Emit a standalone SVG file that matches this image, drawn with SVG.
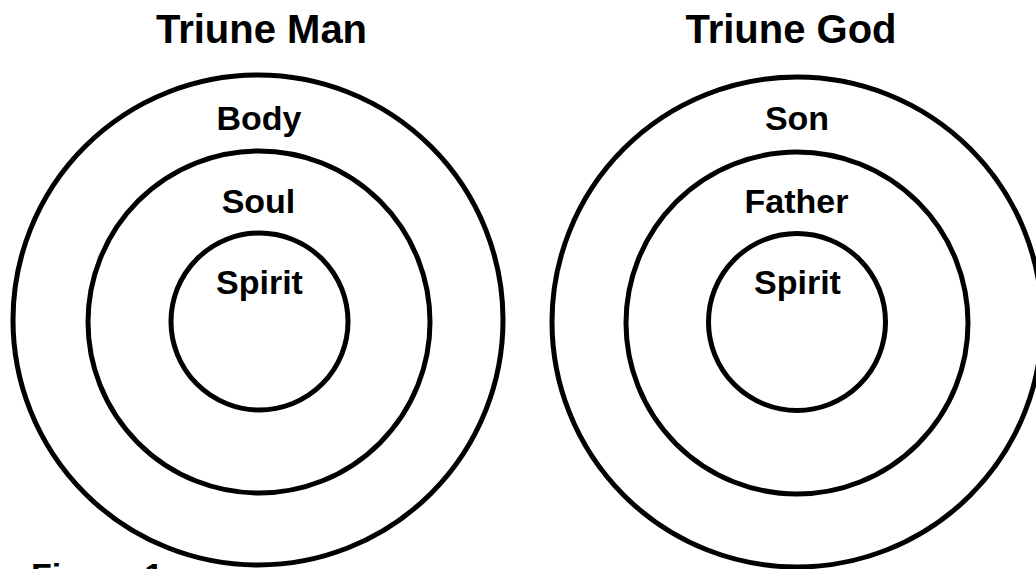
<svg xmlns="http://www.w3.org/2000/svg" width="1036" height="569" viewBox="0 0 1036 569">
<style>
.ring{fill:none;stroke:#000;stroke-width:5}
.t{font-family:"Liberation Sans",Arial,sans-serif;font-weight:bold;fill:#000;text-anchor:middle}
.title{font-size:40px}
.lbl{font-size:34px}
</style>
<rect width="1036" height="569" fill="#fff"/>
<g id="triune-man">
<text class="t title" x="261.5" y="43">Triune Man</text>
<g id="man-body"><circle class="ring" cx="258" cy="320" r="245"/><text class="t lbl" x="259" y="130">Body</text></g>
<g id="man-soul"><circle class="ring" cx="259" cy="322" r="171"/><text class="t lbl" x="258.5" y="213">Soul</text></g>
<g id="man-spirit"><circle class="ring" cx="259.5" cy="321.5" r="88.5"/><text class="t lbl" x="259.5" y="294">Spirit</text></g>
</g>
<g id="triune-god">
<text class="t title" x="791" y="43">Triune God</text>
<g id="god-son"><circle class="ring" cx="797" cy="322" r="245"/><text class="t lbl" x="797" y="130">Son</text></g>
<g id="god-father"><circle class="ring" cx="797" cy="323" r="171"/><text class="t lbl" x="796.5" y="213">Father</text></g>
<g id="god-spirit"><circle class="ring" cx="797" cy="322" r="88.5"/><text class="t lbl" x="797.5" y="294">Spirit</text></g>
</g>
<g id="connectors"/>
<text class="t lbl" x="31" y="587" style="text-anchor:start">Figure 1</text>
</svg>
